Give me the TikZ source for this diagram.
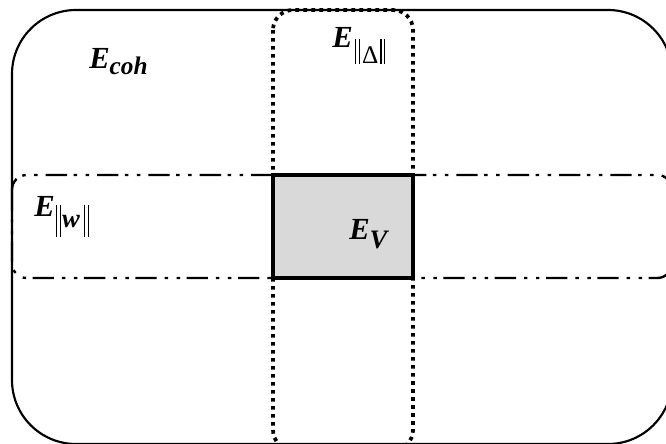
\documentclass[tikz,border=0pt]{standalone}
\usepackage{fontspec}
\setmainfont{Liberation Serif}
\usetikzlibrary{positioning}

% double bar of given height
\newcommand{\dbar}[1]{\rule{0.8pt}{#1}\hspace{2pt}\rule{0.8pt}{#1}}

\begin{document}
\begin{tikzpicture}[
  x=0.75pt, y=-0.75pt,
  outerbox/.style={draw=black, line width=1.6pt, rounded corners=48pt},
  deltabox/.style={draw=black, line width=2.8pt, dash pattern=on 2.8pt off 3.2pt, rounded corners=15pt},
  wbox/.style={draw=black, line width=1.8pt, rounded corners=11pt,
               dash pattern=on 16pt off 6pt on 2.6pt off 6.4pt on 2.6pt off 4.9pt},
  vbox/.style={draw=black, line width=2.6pt, fill=black!15},
  lbl/.style={anchor=base west, inner sep=0pt, font=\fontsize{23}{26}\selectfont\bfseries\itshape},
]
\useasboundingbox (0,0) rectangle (666,443);

% regions
\draw[outerbox] (12,10) rectangle (672,444);
\fill[black!15] (273,175) rectangle (413,278);
\draw[wbox] (12,175) rectangle (672,278);
\draw[deltabox] (273,10) rectangle (413,450);
\draw[vbox] (273,175) rectangle (413,278);

% labels
\node[lbl] (coh) at (89,68) {E\raisebox{-5pt}{\fontsize{19}{19}\selectfont coh}};
\node[lbl] (delta) at (332,47) {E\hspace{2pt}\raisebox{-12.5pt}{\fontsize{19}{19}\selectfont\mdseries\upshape
  \dbar{18.5pt}\hspace{1.5pt}Δ\hspace{1.5pt}\dbar{18.5pt}}};
\node[lbl] (w) at (34,216) {E\hspace{1pt}\raisebox{-16pt}{\dbar{24pt}\hspace{1pt}\raisebox{7.5pt}{\fontsize{20}{20}\selectfont w}\hspace{3pt}\dbar{24pt}}};
\node[lbl] (v) at (349,239) {E\raisebox{-7pt}{\fontsize{20}{20}\selectfont V}};
\end{tikzpicture}
\end{document}
